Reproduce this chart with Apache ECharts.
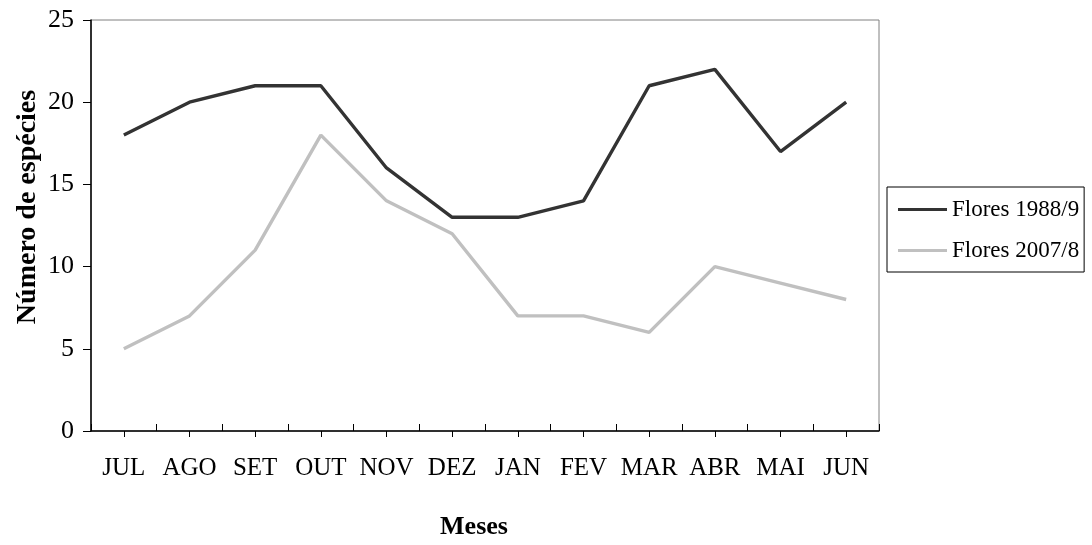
<!DOCTYPE html>
<html>
<head>
<meta charset="utf-8">
<script src="https://cdn.jsdelivr.net/npm/echarts@6/dist/echarts.min.js"></script>
<style>
html,body{margin:0;padding:0;background:#fff;}
#c{width:1092px;height:545px;}
</style>
</head>
<body>
<div id="c"></div>
<script>
const months = ['JUL','AGO','SET','OUT','NOV','DEZ','JAN','FEV','MAR','ABR','MAI','JUN'];
const flores1988 = [18,20,21,21,16,13,13,14,21,22,17,20];
const flores2007 = [5,7,11,18,14,12,7,7,6,10,9,8];
const seriesNames = ['Flores 1988/9','Flores 2007/8'];
const yTitle = 'Número de espécies';
const xTitle = 'Meses';

const FONT = '"Liberation Serif","Times New Roman",serif';
const chart = echarts.init(document.getElementById('c'), null, {renderer:'canvas'});
chart.setOption({
  animation:false,
  backgroundColor:'#ffffff',
  grid:{left:91, top:20, right:213, bottom:114, show:true, borderColor:'#808080', borderWidth:1, backgroundColor:'transparent'},
  legend:{
    orient:'vertical', left:887, top:187,
    data:seriesNames,
    icon:'rect', itemWidth:49, itemHeight:3, itemGap:18,
    padding:[11,5,10,11],
    borderColor:'#000', borderWidth:1,
    textStyle:{fontFamily:FONT, fontSize:23, color:'#000'}
  },
  xAxis:[{
    type:'category', data:months, boundaryGap:true,
    axisLine:{show:true, lineStyle:{color:'#000', width:1.5}},
    axisTick:{show:true, inside:true, length:7, lineStyle:{color:'#000', width:1}},
    axisLabel:{fontFamily:FONT, fontSize:25, color:'#000', margin:25, interval:0},
    splitLine:{show:false}
  },{
    type:'category', data:months, boundaryGap:true, position:'bottom',
    axisLine:{show:false},
    axisTick:{show:true, alignWithLabel:true, inside:false, length:6, lineStyle:{color:'#000', width:1}},
    axisLabel:{show:false},
    splitLine:{show:false}
  }],
  yAxis:{
    type:'value', min:0, max:25, interval:5,
    axisLine:{show:true, lineStyle:{color:'#000', width:1.5}},
    axisTick:{show:true, inside:false, length:8, lineStyle:{color:'#000', width:1}},
    axisLabel:{fontFamily:FONT, fontSize:26, color:'#000', margin:17},
    splitLine:{show:false}
  },
  graphic:[
    {type:'text', style:{text:yTitle, font:'bold 28px '+FONT, fill:'#000', textAlign:'center', textVerticalAlign:'middle'}, x:28, y:207, rotation:Math.PI/2},
    {type:'text', style:{text:xTitle, font:'bold 26px '+FONT, fill:'#000', textAlign:'center', textVerticalAlign:'middle'}, x:474, y:527}
  ],
  series:[
    {name:seriesNames[0], type:'line', xAxisIndex:0, data:flores1988, showSymbol:false, symbol:'none', lineStyle:{color:'#333333', width:3.4}, itemStyle:{color:'#333333'}},
    {name:seriesNames[1], type:'line', xAxisIndex:0, data:flores2007, showSymbol:false, symbol:'none', lineStyle:{color:'#c0c0c0', width:3.4}, itemStyle:{color:'#c0c0c0'}}
  ]
});
</script>
</body>
</html>
